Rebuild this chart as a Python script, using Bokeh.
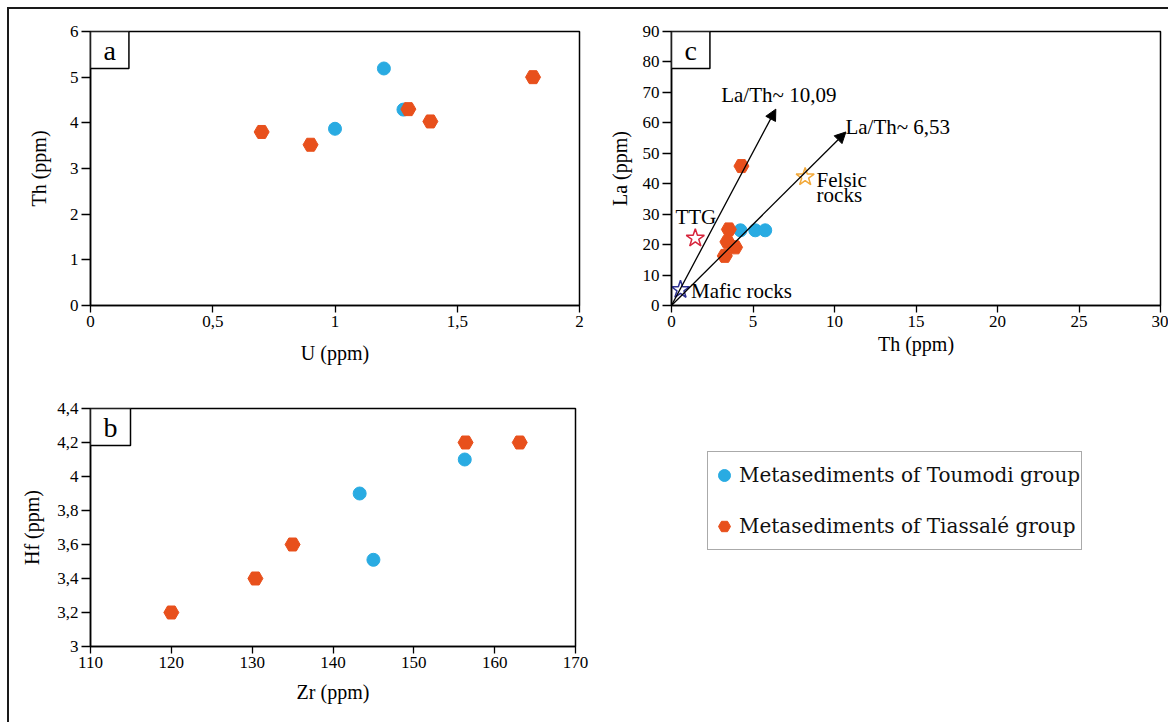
from bokeh.plotting import figure
from bokeh.models import (Range1d, FixedTicker, Label, Legend, LegendItem, Arrow,
                          NormalHead, ColumnDataSource, Spacer)
from bokeh.layouts import row, column
from bokeh.embed import file_html
from bokeh.resources import INLINE
from bokeh.core.properties import value

# ---------------- data ----------------
# panel a : U vs Th
toumodi_u = [1.00, 1.20, 1.28]
toumodi_th_a = [3.87, 5.19, 4.29]
tiassale_u = [0.70, 0.90, 1.30, 1.39, 1.81]
tiassale_th_a = [3.80, 3.52, 4.30, 4.03, 5.00]

# panel b : Zr vs Hf
toumodi_zr = [143.3, 145.0, 156.3]
toumodi_hf = [3.90, 3.51, 4.10]
tiassale_zr = [120.0, 130.4, 135.0, 156.4, 163.1]
tiassale_hf = [3.20, 3.40, 3.60, 4.20, 4.20]

# panel c : Th vs La
toumodi_th_c = [4.23, 5.14, 5.75]
toumodi_la = [24.7, 24.7, 24.7]
tiassale_th_c = [4.29, 3.52, 3.43, 3.90, 3.27]
tiassale_la = [45.8, 25.0, 20.9, 19.1, 16.3]

# reference compositions (stars)
ref_th = [1.46, 8.2, 0.55]
ref_la = [22.1, 42.2, 5.2]
ref_colors = ["#D7263D", "#F2A93B", "#2E3192"]
ref_text = ["TTG", "Felsic", "rocks", "Mafic rocks"]
ref_text_th = [0.24, 8.9, 8.9, 1.2]
ref_text_la = [29.2, 41.3, 36.4, 4.9]

# La/Th ratio lines
ratio_th_end = [6.4, 10.7]
ratio_la_end = [64.5, 57.0]
ratio_labels = ["La/Th~ 10,09", "La/Th~ 6,53"]
ratio_label_th = [3.05, 10.67]
ratio_label_la = [69.2, 58.5]

# ticks
a_x_ticks = [0, 0.5, 1, 1.5, 2]
a_x_labels = ["0", "0,5", "1", "1,5", "2"]
a_y_ticks = [0, 1, 2, 3, 4, 5, 6]
a_y_labels = ["0", "1", "2", "3", "4", "5", "6"]
b_x_ticks = [110, 120, 130, 140, 150, 160, 170]
b_x_labels = ["110", "120", "130", "140", "150", "160", "170"]
b_y_ticks = [3.0, 3.2, 3.4, 3.6, 3.8, 4.0, 4.2, 4.4]
b_y_labels = ["3", "3,2", "3,4", "3,6", "3,8", "4", "4,2", "4,4"]
c_x_ticks = [0, 5, 10, 15, 20, 25, 30]
c_x_labels = ["0", "5", "10", "15", "20", "25", "30"]
c_y_ticks = [0, 10, 20, 30, 40, 50, 60, 70, 80, 90]
c_y_labels = ["0", "10", "20", "30", "40", "50", "60", "70", "80", "90"]

legend_labels = ["Metasediments of Toumodi group", "Metasediments of Tiassalé group"]

BLUE = "#29ABE2"
ORANGE = "#E8501C"
SERIF = "Liberation Serif"


def make_fig(w, h, bl, br, bt, bb, xr, yr, xt, xl, yt, yl, xtitle, ytitle,
             x_stand, y_stand, letter):
    p = figure(width=w, height=h, x_range=Range1d(*xr), y_range=Range1d(*yr),
               toolbar_location=None, output_backend="svg",
               min_border_left=bl, min_border_right=br,
               min_border_top=bt, min_border_bottom=bb)
    p.grid.visible = False
    p.outline_line_color = "black"
    p.outline_line_width = 1.5
    p.background_fill_color = "white"
    p.border_fill_color = "white"
    for ax, ticks, labels, title, stand, out in (
            (p.xaxis[0], xt, xl, xtitle, x_stand, 7),
            (p.yaxis[0], yt, yl, ytitle, y_stand, 9)):
        ax.ticker = FixedTicker(ticks=ticks)
        ax.major_label_overrides = dict(zip(ticks, labels))
        ax.major_tick_in = 0
        ax.major_tick_out = out
        ax.major_tick_line_width = 1.3
        ax.major_tick_line_color = "black"
        ax.minor_tick_line_color = None
        ax.axis_line_color = "black"
        ax.axis_line_width = 1.5
        ax.major_label_text_font = SERIF
        ax.major_label_text_font_size = "17px"
        ax.major_label_text_color = "black"
        ax.major_label_standoff = 3
        ax.axis_label = title
        ax.axis_label_text_font = SERIF
        ax.axis_label_text_font_size = "20px"
        ax.axis_label_text_font_style = "normal"
        ax.axis_label_text_color = "black"
        ax.axis_label_standoff = stand
    p.add_layout(Label(x=xr[0], y=yr[1], text=letter, text_align="left",
                       text_baseline="top", text_font=SERIF,
                       text_font_size="28px", text_color="black",
                       padding=(13, 3), border_line_color="black",
                       border_line_width=1.5, background_fill_color="white"))
    return p


def add_points(p, bx, by, ox, oy):
    p.scatter(bx, by, marker="circle", size=13, fill_color=BLUE, line_color=BLUE)
    p.scatter(ox, oy, marker="hex", size=15, fill_color=ORANGE, line_color=ORANGE)


# ---- panel a ----
pa = make_fig(596, 368, 81, 26, 22, 69, (0, 2), (0, 6),
              a_x_ticks, a_x_labels, a_y_ticks, a_y_labels,
              "U (ppm)", "Th (ppm)", 12, 17, "a")
add_points(pa, toumodi_u, toumodi_th_a, tiassale_u, tiassale_th_a)

# ---- panel c ----
pc = make_fig(563, 368, 64, 8, 19, 72, (0, 30), (0, 90),
              c_x_ticks, c_x_labels, c_y_ticks, c_y_labels,
              "Th (ppm)", "La (ppm)", 3, 9, "c")
arrow_src = ColumnDataSource(dict(x0=[0] * len(ratio_th_end), y0=[0] * len(ratio_la_end),
                                  x1=ratio_th_end, y1=ratio_la_end))
pc.add_layout(Arrow(end=NormalHead(size=11, fill_color="black", line_color="black"),
                    x_start="x0", y_start="y0", x_end="x1", y_end="y1",
                    source=arrow_src, line_color="black", line_width=1.3))
add_points(pc, toumodi_th_c, toumodi_la, tiassale_th_c, tiassale_la)
pc.scatter(ref_th, ref_la, marker="star", size=19, fill_color="white", fill_alpha=0.0,
           line_color=ref_colors, line_width=1.5)
pc.text(ratio_label_th, ratio_label_la, text=ratio_labels, text_font=value(SERIF),
        text_font_size="21px", text_align="left", text_baseline="middle", text_color="black")
pc.text(ref_text_th, ref_text_la, text=ref_text, text_font=value(SERIF),
        text_font_size="21px", text_align="left", text_baseline="middle", text_color="black")

# ---- panel b ----
pb = make_fig(596, 345, 81, 30, 31, 76, (110, 170), (3, 4.4),
              b_x_ticks, b_x_labels, b_y_ticks, b_y_labels,
              "Zr (ppm)", "Hf (ppm)", 10, 11, "b")
add_points(pb, toumodi_zr, toumodi_hf, tiassale_zr, tiassale_hf)

# ---- legend (proxy glyphs reuse panel-b series; they fall outside this view) ----
leg = figure(width=420, height=110, x_range=Range1d(0, 1), y_range=Range1d(0, 1),
             x_axis_type=None, y_axis_type=None, toolbar_location=None,
             output_backend="svg", min_border=0)
leg.outline_line_color = None
leg.grid.visible = False
r1 = leg.scatter(toumodi_zr, toumodi_hf, marker="circle", fill_color=BLUE, line_color=BLUE)
r2 = leg.scatter(tiassale_zr, tiassale_hf, marker="hex", fill_color=ORANGE, line_color=ORANGE)
legend = Legend(items=[LegendItem(label=legend_labels[0], renderers=[r1]),
                       LegendItem(label=legend_labels[1], renderers=[r2])],
                location="top_left", padding=1, spacing=7, margin=0,
                glyph_width=30, glyph_height=44, label_standoff=0,
                label_text_font="DejaVu Serif", label_text_font_size="20px",
                label_text_color="#111111",
                border_line_color="#555555", border_line_width=1.5,
                background_fill_color="white", background_fill_alpha=1.0)
leg.add_layout(legend)

legend_block = column(Spacer(width=10, height=74), row(Spacer(width=102, height=110), leg))

layout = column(row(pa, pc), row(pb, legend_block),
                styles={"border-top": "2px solid #1a1a1a",
                        "border-left": "2px solid #1a1a1a",
                        "margin-left": "7px", "margin-top": "7px"})

open("out.html", "w").write(file_html(layout, INLINE))
